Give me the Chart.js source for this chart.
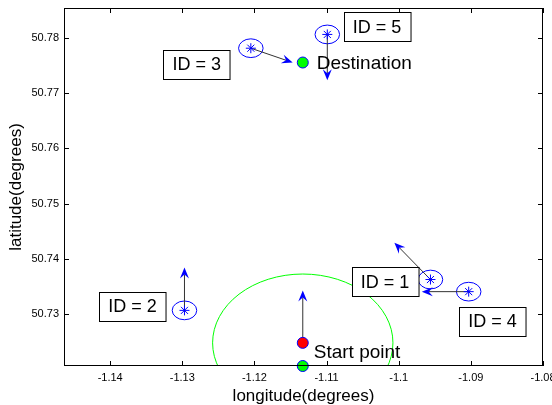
<!DOCTYPE html>
<html>
<head>
<meta charset="utf-8">
<script src="https://cdn.jsdelivr.net/npm/chart.js@4"></script>
<style>
  body { margin: 0; background: #fff; }
  canvas { display: block; }
</style>
</head>
<body>
<canvas id="map" width="552" height="405"></canvas>
<script>
// tick labels
var xTicks = [-1.14, -1.13, -1.12, -1.11, -1.1, -1.09, -1.08];
var yTicks = [50.73, 50.74, 50.75, 50.76, 50.77, 50.78];

// vehicles: position, heading arrow tip, label box centre
var vehicleIds = ['ID = 1', 'ID = 2', 'ID = 3', 'ID = 4', 'ID = 5'];
var vehicleLon = [-1.0956, -1.1297, -1.1205, -1.0903, -1.1099];
var vehicleLat = [50.7362, 50.7306, 50.7782, 50.7340, 50.7807];
var headLon = [-1.1006, -1.1297, -1.1147, -1.0968, -1.1099];
var headLat = [50.7429, 50.7384, 50.7756, 50.7340, 50.7724];
var labelLon = [-1.1019, -1.1369, -1.1280, -1.0870, -1.1030];
var labelLat = [50.7358, 50.7313, 50.7753, 50.7286, 50.7821];

// start vehicle, its heading, the origin and the destination
var startPoint = [-1.1133, 50.7247];
var startHead = [-1.1133, 50.7342];
var originPoint = [-1.1133, 50.7205];
var destPoint = [-1.1133, 50.7756];

// radio range around the start vehicle and the marker circle around each vehicle
var rangeRadius = 0.0125;
var vehicleRadius = 0.0017;

var BLUE = '#0000ff';
var FONT = '"Liberation Sans", Arial, sans-serif';

function arrow(ctx, x0, y0, x1, y1) {
    var ang = Math.atan2(y1 - y0, x1 - x0);
    var len = 11, half = 4.5, notch = 7;
    var c = Math.cos(ang), s = Math.sin(ang);
    var nx = x1 - notch * c, ny = y1 - notch * s;
    ctx.strokeStyle = '#333';
    ctx.lineWidth = 1;
    ctx.beginPath();
    ctx.moveTo(x0, y0);
    ctx.lineTo(nx, ny);
    ctx.stroke();
    ctx.fillStyle = BLUE;
    ctx.beginPath();
    ctx.moveTo(x1, y1);
    ctx.lineTo(x1 - len * c + half * s, y1 - len * s - half * c);
    ctx.lineTo(nx, ny);
    ctx.lineTo(x1 - len * c - half * s, y1 - len * s + half * c);
    ctx.closePath();
    ctx.fill();
}

var mapPlugin = {
    id: 'mapExtras',
    beforeDatasetsDraw: function (chart) {
        var ctx = chart.ctx, x = chart.scales.x, y = chart.scales.y, a = chart.chartArea;
        ctx.save();
        // range circle, cut by the axes box
        ctx.beginPath();
        ctx.rect(a.left, a.top, a.right - a.left, a.bottom - a.top);
        ctx.clip();
        var cx = x.getPixelForValue(startPoint[0]), cy = y.getPixelForValue(startPoint[1]);
        var rx = x.getPixelForValue(startPoint[0] + rangeRadius) - cx;
        var ry = cy - y.getPixelForValue(startPoint[1] + rangeRadius);
        ctx.strokeStyle = '#00ff00';
        ctx.lineWidth = 1;
        ctx.beginPath();
        ctx.ellipse(cx, cy, rx, ry, 0, 0, Math.PI * 2);
        ctx.stroke();
        ctx.restore();

        ctx.save();
        // circles round the vehicles
        ctx.strokeStyle = BLUE;
        ctx.lineWidth = 1;
        for (var i = 0; i < vehicleLon.length; i++) {
            var vx = x.getPixelForValue(vehicleLon[i]), vy = y.getPixelForValue(vehicleLat[i]);
            var vrx = x.getPixelForValue(vehicleLon[i] + vehicleRadius) - vx;
            var vry = vy - y.getPixelForValue(vehicleLat[i] + vehicleRadius);
            ctx.beginPath();
            ctx.ellipse(vx, vy, vrx, vry, 0, 0, Math.PI * 2);
            ctx.stroke();
        }
        // heading arrows
        for (var j = 0; j < vehicleLon.length; j++) {
            arrow(ctx, x.getPixelForValue(vehicleLon[j]), y.getPixelForValue(vehicleLat[j]),
                  x.getPixelForValue(headLon[j]), y.getPixelForValue(headLat[j]));
        }
        arrow(ctx, x.getPixelForValue(startPoint[0]), y.getPixelForValue(startPoint[1]),
              x.getPixelForValue(startHead[0]), y.getPixelForValue(startHead[1]));
        ctx.restore();
    },
    afterDatasetsDraw: function (chart) {
        var ctx = chart.ctx, x = chart.scales.x, y = chart.scales.y;
        ctx.save();
        // ID boxes
        ctx.font = '18px ' + FONT;
        ctx.textAlign = 'center';
        ctx.textBaseline = 'middle';
        for (var i = 0; i < vehicleIds.length; i++) {
            var bx = x.getPixelForValue(labelLon[i]), by = y.getPixelForValue(labelLat[i]);
            var w = ctx.measureText(vehicleIds[i]).width + 18, h = 29;
            var l = Math.round(bx - w / 2) + 0.5, t = Math.round(by - h / 2) + 0.5;
            ctx.fillStyle = '#fff';
            ctx.fillRect(l, t, w, h);
            ctx.strokeStyle = '#000';
            ctx.lineWidth = 1;
            ctx.strokeRect(l, t, w, h);
            ctx.fillStyle = '#000';
            ctx.fillText(vehicleIds[i], bx, by + 1);
        }
        // point names
        ctx.font = '19px ' + FONT;
        ctx.textAlign = 'left';
        ctx.fillText('Destination', x.getPixelForValue(destPoint[0]) + 14, y.getPixelForValue(destPoint[1]) + 1);
        ctx.fillText('Start point', x.getPixelForValue(originPoint[0]) + 11, y.getPixelForValue(originPoint[1]) - 13);
        ctx.restore();
    },
    afterDraw: function (chart) {
        var ctx = chart.ctx, x = chart.scales.x, y = chart.scales.y, a = chart.chartArea;
        ctx.save();
        ctx.strokeStyle = '#000';
        ctx.lineWidth = 1;
        ctx.strokeRect(Math.round(a.left) + 0.5, Math.round(a.top) + 0.5,
                       Math.round(a.right - a.left) - 1, Math.round(a.bottom - a.top) - 1);
        // inward tick marks on all four sides
        ctx.beginPath();
        xTicks.forEach(function (v) {
            var px = Math.round(x.getPixelForValue(v)) + 0.5;
            ctx.moveTo(px, a.bottom); ctx.lineTo(px, a.bottom - 5);
            ctx.moveTo(px, a.top); ctx.lineTo(px, a.top + 5);
        });
        yTicks.forEach(function (v) {
            var py = Math.round(y.getPixelForValue(v)) + 0.5;
            ctx.moveTo(a.left, py); ctx.lineTo(a.left + 5, py);
            ctx.moveTo(a.right, py); ctx.lineTo(a.right - 5, py);
        });
        ctx.stroke();
        ctx.restore();
    }
};

function toPoints(lon, lat) {
    return lon.map(function (v, i) { return { x: v, y: lat[i] }; });
}

new Chart(document.getElementById('map').getContext('2d'), {
    type: 'scatter',
    data: {
        datasets: [{
            label: 'vehicles',
            data: toPoints(vehicleLon, vehicleLat),
            pointStyle: 'star',
            pointRadius: 5,
            borderColor: BLUE,
            borderWidth: 1
        }, {
            label: 'start',
            data: [{ x: startPoint[0], y: startPoint[1] }],
            pointRadius: 5.5,
            backgroundColor: '#ff0000',
            borderColor: BLUE,
            borderWidth: 1
        }, {
            label: 'origin / destination',
            data: [{ x: originPoint[0], y: originPoint[1] }, { x: destPoint[0], y: destPoint[1] }],
            pointRadius: 5.5,
            backgroundColor: '#00ff00',
            borderColor: BLUE,
            borderWidth: 1,
            clip: false
        }]
    },
    options: {
        responsive: false,
        animation: false,
        layout: { padding: { top: 8, right: 9, left: 0, bottom: 0 } },
        plugins: {
            legend: { display: false },
            tooltip: { enabled: false }
        },
        scales: {
            x: {
                type: 'linear',
                min: -1.1464,
                max: -1.08,
                grid: { display: false, drawTicks: false },
                border: { display: false },
                afterBuildTicks: function (scale) {
                    scale.ticks = xTicks.map(function (v) { return { value: v }; });
                },
                afterFit: function (scale) {
                    scale.height = 39;
                    scale.paddingLeft = 0;
                    scale.paddingRight = 0;
                },
                ticks: {
                    color: '#000',
                    padding: 5,
                    maxRotation: 0,
                    font: { family: FONT, size: 11 },
                    callback: function (v) { return String(v); }
                },
                title: {
                    display: true,
                    text: 'longitude(degrees)',
                    color: '#000',
                    font: { family: FONT, size: 17 },
                    padding: { top: 0, bottom: -2 }
                }
            },
            y: {
                type: 'linear',
                min: 50.7205,
                max: 50.7855,
                grid: { display: false, drawTicks: false },
                border: { display: false },
                afterBuildTicks: function (scale) {
                    scale.ticks = yTicks.map(function (v) { return { value: v }; });
                },
                afterFit: function (scale) {
                    scale.width = 64;
                    scale.paddingTop = 0;
                    scale.paddingBottom = 0;
                },
                ticks: {
                    color: '#000',
                    padding: 5,
                    font: { family: FONT, size: 11 },
                    callback: function (v) { return String(v); }
                },
                title: {
                    display: true,
                    text: 'latitude(degrees)',
                    color: '#000',
                    font: { family: FONT, size: 17 },
                    padding: { top: 6, bottom: 0 }
                }
            }
        }
    },
    plugins: [mapPlugin]
});
</script>
</body>
</html>
